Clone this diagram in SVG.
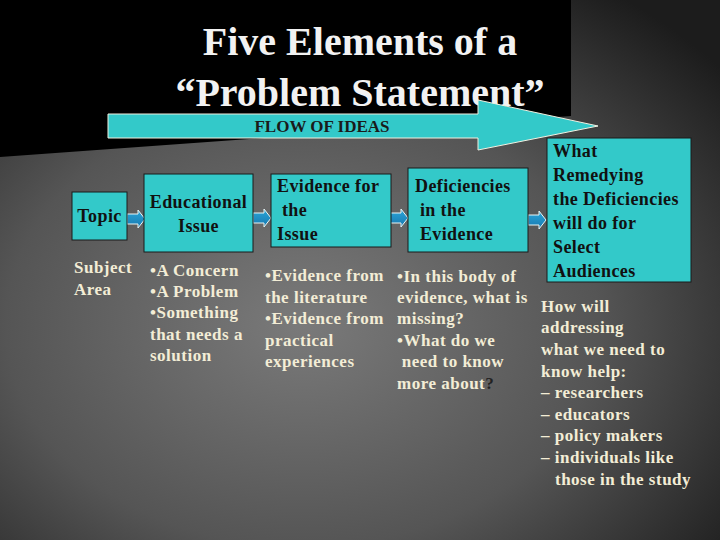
<svg xmlns="http://www.w3.org/2000/svg" width="720" height="540" viewBox="0 0 720 540">
<defs>
<radialGradient id="bg" cx="0.42" cy="0.6" r="0.75">
<stop offset="0" stop-color="#7a7a7a"/>
<stop offset="0.55" stop-color="#555"/>
<stop offset="1" stop-color="#1c1c1c"/>
</radialGradient>
<linearGradient id="ab" x1="0" y1="0" x2="0" y2="1">
<stop offset="0" stop-color="#2aa6d8"/>
<stop offset="1" stop-color="#1878b0"/>
</linearGradient>
<path id="sa" d="M0,-5 L11,-5 L11,-9 L18,0 L11,9 L11,5 L0,5 Z"/>
<style>
.bx{fill:#33c9c9;stroke:#1a1a1a;stroke-width:1}
.bt{font-family:"Liberation Serif","Times New Roman",serif;font-weight:bold;font-size:18px;fill:#111;letter-spacing:0.4px}
.lt{font-family:"Liberation Serif","Times New Roman",serif;font-weight:bold;font-size:17px;fill:#f3edd6;letter-spacing:0.5px}
.ttl{font-family:"Liberation Serif","Times New Roman",serif;font-weight:bold;font-size:40px;fill:#f2f2f2}
.sarr{fill:url(#ab);stroke:#e8f4f4;stroke-width:1}
</style>
</defs>
<rect x="0" y="0" width="720" height="540" fill="url(#bg)"/>
<polygon points="0,0 571,0 571,116 0,157" fill="#000"/>
<g id="title">
<text class="ttl" x="360" y="55" text-anchor="middle">Five Elements of a</text>
<text class="ttl" x="360" y="106" text-anchor="middle">“Problem Statement”</text>
</g>
<g id="flow">
<polygon points="108,114 478,114 478,100 598,126 478,150 478,138 108,138" fill="#33c9c9" stroke="#f0f0e0" stroke-width="1"/>
<text x="322" y="132" text-anchor="middle" font-family="'Liberation Serif','Times New Roman',serif" font-weight="bold" font-size="17" fill="#1a1a1a">FLOW OF IDEAS</text>
</g>
<g id="connectors">
<use href="#sa" class="sarr" x="127" y="219"/>
<use href="#sa" class="sarr" x="253" y="218"/>
<use href="#sa" class="sarr" x="390" y="218"/>
<use href="#sa" class="sarr" x="528" y="220"/>
</g>
<g id="topic">
<rect class="bx" x="72" y="192" width="55" height="48"/>
<text class="bt" x="99.5" y="222" text-anchor="middle">Topic</text>
</g>
<g id="issue">
<rect class="bx" x="144" y="174" width="109" height="78"/>
<text class="bt" x="198.5" y="208" text-anchor="middle">Educational</text>
<text class="bt" x="198.5" y="232" text-anchor="middle">Issue</text>
</g>
<g id="evidence">
<rect class="bx" x="271" y="174" width="120" height="73"/>
<text class="bt" x="277" y="192">Evidence for</text>
<text class="bt" x="277" y="216" xml:space="preserve"> the</text>
<text class="bt" x="277" y="240">Issue</text>
</g>
<g id="deficiencies">
<rect class="bx" x="408" y="168" width="120" height="84"/>
<text class="bt" x="415" y="192">Deficiencies</text>
<text class="bt" x="415" y="216" xml:space="preserve"> in the</text>
<text class="bt" x="415" y="240" xml:space="preserve"> Evidence</text>
</g>
<g id="remedying">
<rect class="bx" x="547" y="138" width="144" height="144"/>
<text class="bt" x="553" y="157">What</text>
<text class="bt" x="553" y="181">Remedying</text>
<text class="bt" x="553" y="205">the Deficiencies</text>
<text class="bt" x="553" y="229">will do for</text>
<text class="bt" x="553" y="253">Select</text>
<text class="bt" x="553" y="277">Audiences</text>
</g>
<g id="notes">
<text class="lt" x="74" y="273">Subject</text>
<text class="lt" x="74" y="295">Area</text>
<text class="lt" x="150" y="276">•A Concern</text>
<text class="lt" x="150" y="297">•A Problem</text>
<text class="lt" x="150" y="318">•Something</text>
<text class="lt" x="150" y="340">that needs a</text>
<text class="lt" x="150" y="361">solution</text>
<text class="lt" x="265" y="281">•Evidence from</text>
<text class="lt" x="265" y="303">the literature</text>
<text class="lt" x="265" y="324">•Evidence from</text>
<text class="lt" x="265" y="346">practical</text>
<text class="lt" x="265" y="367">experiences</text>
<text class="lt" x="397" y="282">•In this body of</text>
<text class="lt" x="397" y="303">evidence, what is</text>
<text class="lt" x="397" y="324">missing?</text>
<text class="lt" x="397" y="346">•What do we</text>
<text class="lt" x="397" y="367" xml:space="preserve"> need to know</text>
<text class="lt" x="397" y="389">more about<tspan fill="#222">?</tspan></text>
<text class="lt" x="541" y="312">How will</text>
<text class="lt" x="541" y="333">addressing</text>
<text class="lt" x="541" y="355">what we need to</text>
<text class="lt" x="541" y="377">know help:</text>
<text class="lt" x="541" y="398">– researchers</text>
<text class="lt" x="541" y="420">– educators</text>
<text class="lt" x="541" y="441">– policy makers</text>
<text class="lt" x="541" y="463">– individuals like</text>
<text class="lt" x="555" y="485">those in the study</text>
</g>
</svg>
